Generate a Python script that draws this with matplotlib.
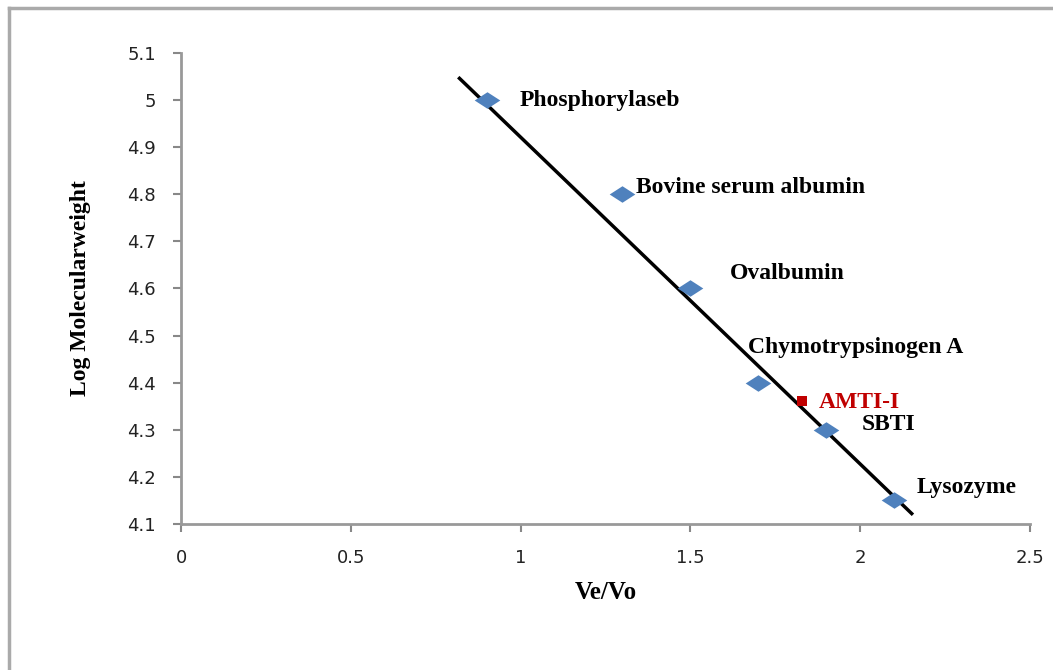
import matplotlib.pyplot as plt
from matplotlib.lines import Line2D
from matplotlib.path import Path

# protein standards (Ve/Vo vs log MW)
proteins = ['Phosphorylaseb', 'Bovine serum albumin', 'Ovalbumin',
            'Chymotrypsinogen A', 'SBTI', 'Lysozyme']
ve_vo = [0.9, 1.3, 1.5, 1.7, 1.9, 2.1]
log_mw = [5.0, 4.8, 4.6, 4.4, 4.3, 4.15]

# sample
sample_name = 'AMTI-I'
sample_x = [1.83]
sample_y = [4.36]

# fitted line endpoints
fit_x = [0.82, 2.152]
fit_y = [5.046, 4.122]

x_ticks = [0, 0.5, 1, 1.5, 2, 2.5]
x_tick_labels = ['0', '0.5', '1', '1.5', '2', '2.5']
y_ticks = [4.1, 4.2, 4.3, 4.4, 4.5, 4.6, 4.7, 4.8, 4.9, 5.0, 5.1]
y_tick_labels = ['4.1', '4.2', '4.3', '4.4', '4.5', '4.6', '4.7', '4.8', '4.9', '5', '5.1']

# label offsets in pixels (dx, dy)
offsets = [(33, 0), (14, 7), (40, 15), (-10, 35), (36, 5), (23, 13)]

# wide diamond marker
diamond = Path([(-1.55, 0), (0, 1), (1.55, 0), (0, -1), (-1.55, 0)],
               [Path.MOVETO, Path.LINETO, Path.LINETO, Path.LINETO, Path.CLOSEPOLY])

fig = plt.figure(figsize=(10.53, 6.70), dpi=100)
ax = fig.add_axes([0.172, 0.218, 0.806, 0.703])

ax.plot(fit_x, fit_y, color='black', lw=2.5, zorder=2)
ax.scatter(ve_vo, log_mw, marker=diamond, s=340, color='#4f81bd', zorder=3, linewidths=0)
ax.scatter(sample_x, sample_y, marker='s', s=60, color='#c00000', zorder=4, linewidths=0)

serif = ['Liberation Serif', 'DejaVu Serif']
for name, x, y, (dx, dy) in zip(proteins, ve_vo, log_mw, offsets):
    ax.annotate(name, (x, y), xytext=(dx, dy), textcoords='offset pixels',
                ha='left', va='center', fontsize=17, fontweight='bold', family=serif)
ax.annotate(sample_name, (sample_x[0], sample_y[0]), xytext=(16, -1), textcoords='offset pixels',
            ha='left', va='center', fontsize=17, fontweight='bold', family=serif, color='#c00000')

ax.set_xlim(0, 2.5)
ax.set_ylim(4.1, 5.1)
ax.set_xticks(x_ticks)
ax.set_xticklabels(x_tick_labels)
ax.set_yticks(y_ticks)
ax.set_yticklabels(y_tick_labels)
ax.tick_params(colors='#888888', labelcolor='#222222', labelsize=13, length=6, width=1.5, pad=12)
for lbl in ax.get_xticklabels() + ax.get_yticklabels():
    lbl.set_family('DejaVu Sans')

for side in ['top', 'right']:
    ax.spines[side].set_visible(False)
for side in ['left', 'bottom']:
    ax.spines[side].set_color('#999999')
    ax.spines[side].set_linewidth(2)

ax.set_xlabel('Ve/Vo', fontsize=18, fontweight='bold', family=serif, labelpad=10)
ax.set_ylabel('Log Molecularweight', fontsize=17, fontweight='bold', family=serif, labelpad=26)

# chart area border (left and top visible)
fig.add_artist(Line2D([0.009, 0.009], [0, 0.988], color='#aaaaaa', lw=2.5))
fig.add_artist(Line2D([0.009, 1.0], [0.988, 0.988], color='#aaaaaa', lw=2.5))

plt.savefig('out.png', dpi=100)
